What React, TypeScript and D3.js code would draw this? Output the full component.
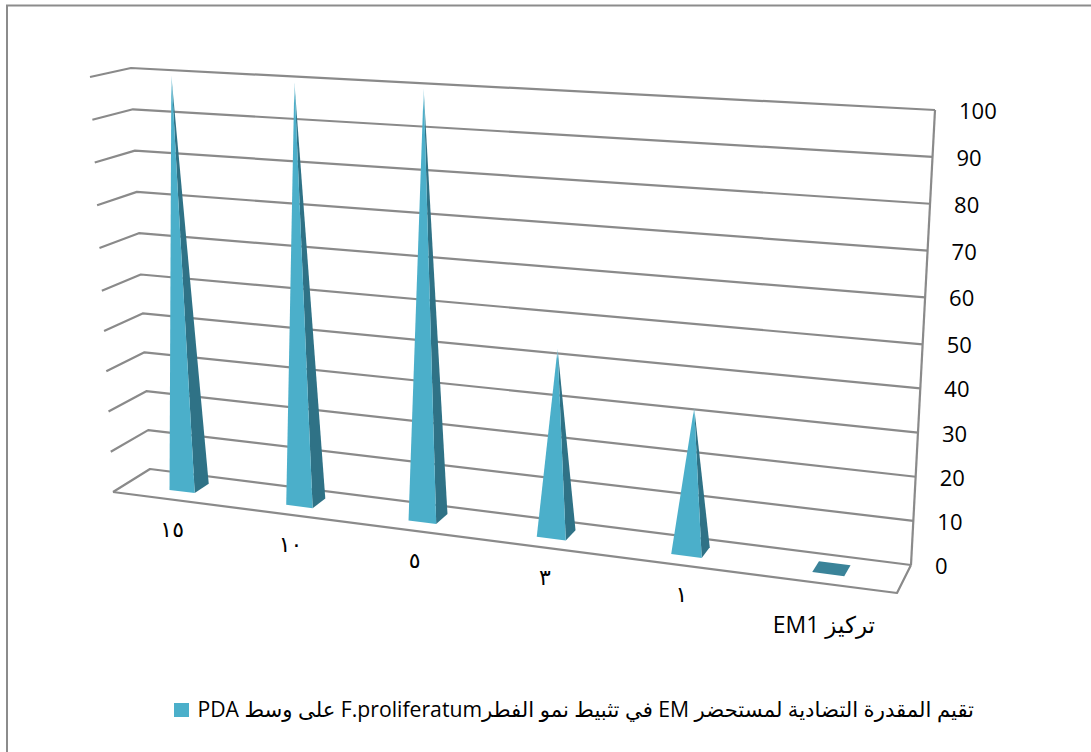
import React from "react";
import * as d3 from "d3";

// Chart content
const categories = ["١٥", "١٠", "٥", "٣", "١", ""];
const seriesValues = [100, 100, 100, 43.5, 33, 0];
const valueTicks = [0, 10, 20, 30, 40, 50, 60, 70, 80, 90, 100];
const axisTitle = "تركيز EM1";
const legendLabel = "تقيم المقدرة التضادية لمستحضر EM في تثبيط نمو الفطرF.proliferatum على وسط PDA";

type Pt = [number, number];

// Projected corners of the 3D box: floor and ceiling, front/back, left/right
const floor: Pt[] = [[113, 492], [897, 593], [911, 565], [150, 469]];
const ceiling: Pt[] = [[90, 77], [922, 121], [935, 110], [131, 68]];

// Maps the unit square onto a quad (p0: u0 d0, p1: u1 d0, p2: u1 d1, p3: u0 d1)
function quadMap(q: Pt[]) {
  const [[x0, y0], [x1, y1], [x2, y2], [x3, y3]] = q;
  const dx1 = x1 - x2, dx2 = x3 - x2, sx = x0 - x1 + x2 - x3;
  const dy1 = y1 - y2, dy2 = y3 - y2, sy = y0 - y1 + y2 - y3;
  const den = dx1 * dy2 - dx2 * dy1;
  const g = (sx * dy2 - dx2 * sy) / den;
  const h = (dx1 * sy - sx * dy1) / den;
  const a = x1 - x0 + g * x1, b = x3 - x0 + h * x3;
  const d = y1 - y0 + g * y1, e = y3 - y0 + h * y3;
  return (u: number, v: number): Pt => {
    const w = g * u + h * v + 1;
    return [(a * u + b * v + x0) / w, (d * u + e * v + y0) / w];
  };
}

const floorMap = quadMap(floor);
const ceilingMap = quadMap(ceiling);
// Foreshortening of the vertical axis
const heightScale = d3.scaleLinear().domain([0, 50, 100]).range([0, 0.485, 1]);
// Extra widening of the categories towards the right of the box, a little stronger at the top
const widen = (u: number, k: number) => u - k * u * (1 - u);

function project(u: number, depth: number, value: number): Pt {
  const a = floorMap(widen(u, 0.07), depth);
  const b = ceilingMap(widen(u, 0.1), depth);
  const t = heightScale(value);
  return [a[0] + (b[0] - a[0]) * t, a[1] + (b[1] - a[1]) * t];
}

const band = d3.scaleBand<number>().domain(d3.range(categories.length)).range([0, 1]).paddingInner(0).paddingOuter(0);
const barFraction = 0.22;
const depthNear = 0.33;
const depthFar = 0.73;

const GRID = "#8a8a8a";
const poly = (pts: Pt[]) => (d3.line()(pts) ?? "") + "Z";

export default function App() {
  const bars = seriesValues.map((value, i) => {
    const mid = band(i)! + band.bandwidth() / 2;
    const half = (band.bandwidth() * barFraction) / 2;
    const fl = project(mid - half, depthNear, 0);
    const fr = project(mid + half, depthNear, 0);
    const br = project(mid + half, depthFar, 0);
    const bl = project(mid - half, depthFar, 0);
    const apex = project(mid, (depthNear + depthFar) / 2, value);
    return { value, fl, fr, br, bl, apex };
  });

  return (
    <svg width={1091} height={752} style={{ position: "absolute", left: 0, top: 0, background: "#fff" }}>
      <defs>
        <linearGradient id="faceFront" x1="0" y1="0" x2="0" y2="1">
          <stop offset="0" stopColor="#a9dbe8" stopOpacity={0.4} />
          <stop offset="0.05" stopColor="#4bafca" />
          <stop offset="1" stopColor="#4bafca" />
        </linearGradient>
        <linearGradient id="faceSide" x1="0" y1="0" x2="0" y2="1">
          <stop offset="0" stopColor="#4bafca" />
          <stop offset="0.1" stopColor="#2f7286" />
          <stop offset="1" stopColor="#2f7286" />
        </linearGradient>
      </defs>

      {/* Frame */}
      <path d="M7,752V5.5H1091" fill="none" stroke="#8c8c8c" strokeWidth={2} />

      {/* Walls and floor */}
      <g fill="none" stroke={GRID} strokeWidth={2.2} strokeLinejoin="round">
        {valueTicks.map((t) => (
          <path
            key={t}
            d={d3.line()([project(0, 0, t), project(0, 1, t), project(1, 1, t)]) ?? ""}
          />
        ))}
        <path d={d3.line()([project(1, 1, 0), project(1, 1, 100)]) ?? ""} />
        <path d={d3.line()([project(0, 0, 0), project(1, 0, 0), project(1, 1, 0)]) ?? ""} />
      </g>

      {/* Pyramids */}
      {bars.map((b, i) =>
        b.value > 0 ? (
          <g key={i}>
            <path d={poly([b.fr, b.br, b.apex])} fill="url(#faceSide)" />
            <path d={poly([b.fl, b.fr, b.apex])} fill="url(#faceFront)" />
          </g>
        ) : (
          <path key={i} d={poly([b.fl, b.fr, b.br, b.bl])} fill="#3a8399" />
        )
      )}

      {/* Value axis */}
      <g fontFamily="'Open Sans', sans-serif" fontSize={22} fill="#000">
        {valueTicks.map((t) => {
          const [x, y] = project(1, 1, t);
          return (
            <text key={t} x={x + 24} y={y} dominantBaseline="central">
              {t}
            </text>
          );
        })}
      </g>

      {/* Category labels */}
      <g fontFamily="'DejaVu Sans', sans-serif" fontSize={22} fill="#000" textAnchor="middle">
        {categories.map((c, i) => {
          const [x, y] = project(band(i)! + band.bandwidth() / 2, 0, 0);
          return (
            <text key={i} x={x + 2} y={y + 30} dominantBaseline="central" direction="ltr">
              {c}
            </text>
          );
        })}
      </g>

      <text x={875} y={624} direction="rtl" dominantBaseline="central" fontFamily="'Open Sans','DejaVu Sans',sans-serif" fontSize={23} fill="#000">
        {axisTitle}
      </text>

      {/* Legend */}
      <rect x={174} y={703} width={15} height={14} fill="#4bafca" />
      <text x={974} y={708} direction="rtl" dominantBaseline="central" fontFamily="'Open Sans','DejaVu Sans',sans-serif" fontSize={21.2} fill="#000">
        {legendLabel}
      </text>
    </svg>
  );
}
